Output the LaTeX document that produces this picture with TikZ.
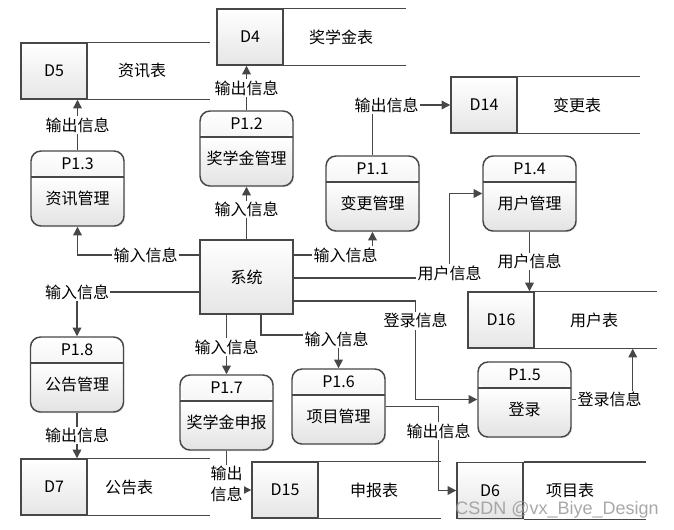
\documentclass[tikz,border=0pt]{standalone}
\usepackage{fontspec}
\setmainfont{Noto Sans CJK SC}
\newfontfamily\wmfont{Liberation Sans}
\usetikzlibrary{arrows.meta,calc,shadows}
\tikzset{
  every node/.style={font=\fontsize{12}{14}\selectfont},
  shad/.style={drop shadow={opacity=0.18,shadow xshift=0.9pt,shadow yshift=-0.9pt}},
  dbox/.style={draw=black!72, line width=1.1pt, top color=white, bottom color=black!10,
    shad, minimum width=49.5pt, minimum height=42pt},
  sysbox/.style={draw=black!72, line width=1.1pt, top color=white, bottom color=black!10,
    shad, minimum width=69.75pt, minimum height=55.5pt},
  proc/.style={draw=black!72, line width=1.1pt, rounded corners=7.5pt, fill=white, shad,
    minimum width=69.75pt, minimum height=56.25pt,
    path picture={
      \shade[top color=white, bottom color=black!11] (path picture bounding box.north west)
        rectangle ([yshift=-19.5pt]path picture bounding box.north east);
      \shade[top color=white, bottom color=black!11] ([yshift=-19.5pt]path picture bounding box.north west)
        rectangle (path picture bounding box.south east);
      \draw[black!72, line width=1.1pt] ([yshift=-19.5pt]path picture bounding box.north west)
        -- ([yshift=-19.5pt]path picture bounding box.north east);
    }},
  store/.style={draw=black!72, line width=1.1pt},
  flow/.style={draw=black!72, line width=1pt, -{Triangle[length=6.5pt,width=6.5pt]}},
  lab/.style={fill=white, inner sep=1pt},
}
\begin{document}
\begin{tikzpicture}[x=0.75pt,y=-0.75pt]
\useasboundingbox (0,0) rectangle (674,529);
% data stores
\node [dbox] (d5) at (54,71) {D5};
\draw [store] (d5.north east) -- ++(122,0) (d5.south east) -- ++(122,0);
\node (t5) at (142,71) {资讯表};
\node [dbox] (d4) at (250,37) {D4};
\draw [store] (d4.north east) -- ++(122,0) (d4.south east) -- ++(122,0);
\node (t4) at (341,37) {奖学金表};
\node [dbox] (d14) at (484,105) {D14};
\draw [store] (d14.north east) -- ++(122,0) (d14.south east) -- ++(122,0);
\node (t14) at (577,105) {变更表};
\node [dbox] (d16) at (501,320) {D16};
\draw [store] (d16.north east) -- ++(122,0) (d16.south east) -- ++(122,0);
\node (t16) at (594,320) {用户表};
\node [dbox] (d7) at (54,487) {D7};
\draw [store] (d7.north east) -- ++(122,0) (d7.south east) -- ++(122,0);
\node (t7) at (129,487) {公告表};
\node [dbox] (d15) at (285,490) {D15};
\draw [store] (d15.north east) -- ++(122,0) (d15.south east) -- ++(122,0);
\node (t15) at (374,490) {申报表};
\node [dbox] (d6) at (490,490.5) {D6};
\draw [store] (d6.north east) -- ++(122,0) (d6.south east) -- ++(122,0);
\node (t6) at (570,490.5) {项目表};
% system
\node [sysbox] (sys) at (246.5,277) {系统};
% processes
\node [proc] (p13) at (77.5,188.5) {};
\node (h13) at ($(p13.north)+(0,13.5)$) {P1.3};
\node (b13) at ($(p13.center)+(0,10)$) {资讯管理};
\node [proc] (p12) at (246.5,148.5) {};
\node (h12) at ($(p12.north)+(0,13.5)$) {P1.2};
\node (b12) at ($(p12.center)+(0,10)$) {奖学金管理};
\node [proc] (p11) at (372.5,193.5) {};
\node (h11) at ($(p11.north)+(0,13.5)$) {P1.1};
\node (b11) at ($(p11.center)+(0,10)$) {变更管理};
\node [proc] (p14) at (529.5,193.5) {};
\node (h14) at ($(p14.north)+(0,13.5)$) {P1.4};
\node (b14) at ($(p14.center)+(0,10)$) {用户管理};
\node [proc] (p18) at (77,374.5) {};
\node (h18) at ($(p18.north)+(0,13.5)$) {P1.8};
\node (b18) at ($(p18.center)+(0,10)$) {公告管理};
\node [proc] (p17) at (226.5,412.5) {};
\node (h17) at ($(p17.north)+(0,13.5)$) {P1.7};
\node (b17) at ($(p17.center)+(0,10)$) {奖学金申报};
\node [proc] (p16) at (338.5,406.5) {};
\node (h16) at ($(p16.north)+(0,13.5)$) {P1.6};
\node (b16) at ($(p16.center)+(0,10)$) {项目管理};
\node [proc] (p15) at (524.5,399.5) {};
\node (h15) at ($(p15.north)+(0,13.5)$) {P1.5};
\node (b15) at ($(p15.center)+(0,10)$) {登录};
% bends
\coordinate (c14) at ($(sys.east)+(156,1)$);
\coordinate (c15) at ($(sys.east)+(122,24)$);
\coordinate (c16) at (p16.north |- 0,335);
\coordinate (c6) at ($(p16.east)+(53,0)$);
\coordinate (u16) at ($(d16.south east)+(98,0)$);
% flows
\draw [flow] (sys.north) -- node [lab, pos=0.57] (l1) {输入信息} (p12.south);
\draw [flow] (p12.north) -- node [lab] (l2) {输出信息} (p12.north |- d4.south);
\draw [flow] (p13.north) -- node [lab] (l3) {输出信息} (p13.north |- d5.south);
\draw [flow] ($(sys.west)+(0,-22)$) -| node [lab, pos=0.22] (l4) {输入信息} (p13.south);
\draw [flow] ($(sys.west)+(0,15)$) -| node [lab, pos=0.5] (l5) {输入信息} (p18.north);
\draw [flow] (p18.south) -- node [lab] (l6) {输出信息} (p18.south |- d7.north);
\draw [flow] (p17.north |- sys.south) -- node [lab, pos=0.54] (l7) {输入信息} (p17.north);
\draw [flow] (p17.south) |- node [lab, pos=0.5, yshift=4.5pt, align=center,
  font=\fontsize{12}{15.5}\selectfont] (l8) {输出\\信息} (d15.west);
\draw [flow] ($(sys.south)+(14.5,0)$) |- (c16) node [lab, xshift=-1.5pt, yshift=-3pt] (l9) {输入信息} -- (p16.north);
\draw [flow] ($(sys.east)+(0,-22)$) -| node [lab, pos=0.33] (l10) {输入信息} (p11.south);
\draw [flow] (p11.north) |- node [lab, pos=0.59] (l11) {输出信息} (d14.west);
\draw [flow] (sys.east |- c14) -- (c14) node [lab, yshift=3.75pt] (l12) {用户信息} |- (p14.west);
\draw [flow] (p14.south) -- node [lab] (l13) {用户信息} (p14.south |- d16.north);
\draw [flow] (sys.east |- c15) -- (c15) |- node [lab, pos=0.1] (l14) {登录信息} (p15.west);
\draw [flow] (p15.east) -| node [lab, pos=0.31] (l15) {登录信息} (u16);
\draw [flow] (p16.east) -- (c6) |- node [lab, pos=0.146] (l16) {输出信息} (d6.west);
% watermark
\node [text=black!40, opacity=0.85, font=\wmfont\fontsize{13.5}{16}\selectfont] (wm) at (557,510) {CSDN @vx\_Biye\_Design};
\end{tikzpicture}
\end{document}
